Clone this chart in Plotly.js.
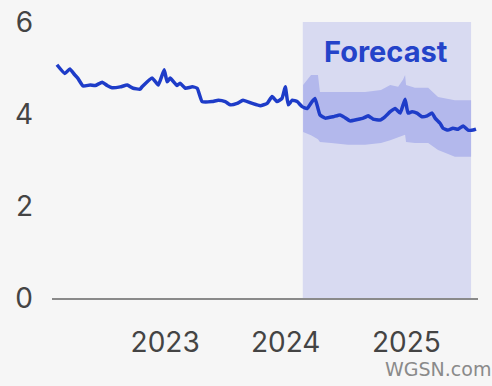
<!DOCTYPE html>
<html>
<head>
<meta charset="utf-8">
<script src="https://cdn.plot.ly/plotly-3.0.1.min.js"></script>
<style>
html,body{margin:0;padding:0;background:#f6f6f6;}
#chart{width:492px;height:386px;}
</style>
</head>
<body>
<div id="chart"></div>
<script>
const dates = ['2022-02-07','2022-03-03','2022-03-18','2022-04-02','2022-04-11','2022-04-27','2022-05-19','2022-06-03','2022-06-24','2022-07-09','2022-07-24','2022-08-18','2022-09-08','2022-09-26','2022-10-17','2022-10-23','2022-11-23','2022-12-11','2022-12-29','2023-01-07','2023-01-16','2023-02-06','2023-02-15','2023-03-03','2023-03-24','2023-04-08','2023-04-23','2023-05-23','2023-06-11','2023-07-02','2023-07-17','2023-08-07','2023-08-25','2023-09-22','2023-10-16','2023-11-06','2023-11-21','2023-12-06','2023-12-21','2023-12-31','2024-01-09','2024-01-21','2024-02-05','2024-02-20','2024-03-06','2024-03-21','2024-03-30','2024-04-14','2024-04-30','2024-05-24','2024-06-14','2024-06-29','2024-07-14','2024-08-05','2024-08-23','2024-09-07','2024-09-22','2024-10-13','2024-10-28','2024-11-13','2024-11-28','2024-12-13','2024-12-28','2025-01-06','2025-01-18','2025-02-02','2025-02-17','2025-03-05','2025-03-20','2025-03-29','2025-04-13','2025-04-22','2025-05-07','2025-05-22','2025-06-07','2025-06-22','2025-07-07','2025-07-22','2025-07-31'];
const values = [5.07,4.88,4.98,4.85,4.78,4.61,4.63,4.62,4.69,4.62,4.57,4.59,4.63,4.56,4.54,4.59,4.78,4.63,4.96,4.70,4.78,4.62,4.67,4.56,4.59,4.56,4.27,4.27,4.30,4.27,4.20,4.23,4.30,4.23,4.18,4.23,4.38,4.27,4.34,4.59,4.20,4.30,4.27,4.16,4.12,4.27,4.34,3.98,3.91,3.94,3.98,3.92,3.85,3.88,3.91,3.96,3.89,3.87,3.94,4.05,4.12,4.02,4.32,4.02,4.05,4.02,3.94,3.96,4.02,3.91,3.80,3.69,3.65,3.69,3.67,3.74,3.65,3.65,3.67];

const bandDates = ['2024-02-23','2024-03-18','2024-04-08','2024-04-14','2024-05-18','2024-07-08','2024-08-29','2024-10-16','2024-11-13','2024-12-07','2024-12-22','2024-12-28','2024-12-31','2025-01-27','2025-03-08','2025-04-07','2025-05-28','2025-07-16'];
const bandUpper = [4.63,4.85,4.85,4.48,4.48,4.48,4.48,4.52,4.63,4.59,4.75,4.85,4.63,4.57,4.57,4.37,4.30,4.30];
const bandLower = [3.61,3.54,3.45,3.39,3.37,3.33,3.33,3.37,3.43,3.50,3.55,3.55,3.39,3.37,3.37,3.22,3.07,3.07];

const forecastStart = '2024-02-22';
const forecastEnd = '2025-07-16';
const xTickVals = ['2023-01-01','2024-01-01','2025-01-01'];
const xTickText = ['2023','2024','2025'];
const yTickVals = [0,2,4,6];

const font = 'Inter, "Noto Sans", sans-serif';

const traces = [
  {x: bandDates, y: bandUpper, type:'scatter', mode:'lines', line:{width:0, color:'rgba(0,0,0,0)'}, hoverinfo:'skip', showlegend:false},
  {x: bandDates, y: bandLower, type:'scatter', mode:'lines', line:{width:0, color:'rgba(0,0,0,0)'}, fill:'tonexty', fillcolor:'#b3b8ec', hoverinfo:'skip', showlegend:false},
  {x: dates, y: values, type:'scatter', mode:'lines', line:{color:'#1e3cc8', width:3.5, shape:'spline', smoothing:0.4}, showlegend:false}
];

const layout = {
  width: 492, height: 386,
  margin: {l:52, r:14, t:22, b:88},
  paper_bgcolor:'#f6f6f6', plot_bgcolor:'#f6f6f6',
  font:{family:font, color:'#444', size:24},
  xaxis:{
    type:'date', range:['2022-01-23','2025-08-06'],
    tickvals:xTickVals, ticktext:xTickText,
    showgrid:false, zeroline:false,
    showline:true, linecolor:'#8a8a8a', linewidth:2,
    ticks:'', ticklabelstandoff:18,
    tickfont:{size:28, color:'#444', family:font}
  },
  yaxis:{
    range:[0,6], tickvals:yTickVals,
    showgrid:false, zeroline:false, showline:false,
    ticks:'', ticklabelstandoff:18,
    tickfont:{size:28, color:'#444', family:font}
  },
  shapes:[{type:'rect', xref:'x', yref:'y', x0:forecastStart, x1:forecastEnd, y0:0, y1:6, fillcolor:'#d8daf1', line:{width:0}, layer:'below'}],
  annotations:[
    {text:'<b>Forecast</b>', xref:'x', yref:'y', x:'2024-10-31', y:5.35, showarrow:false, font:{size:29, color:'#2443c9', family:font}},
    {text:'WGSN.com', xref:'paper', yref:'paper', x:1.035, y:-0.305, xanchor:'right', yanchor:'bottom', showarrow:false, font:{size:19, color:'#8a8a8a', family:'"DejaVu Sans", sans-serif'}}
  ]
};

Plotly.newPlot('chart', traces, layout, {staticPlot:true, displayModeBar:false});
</script>
</body>
</html>
